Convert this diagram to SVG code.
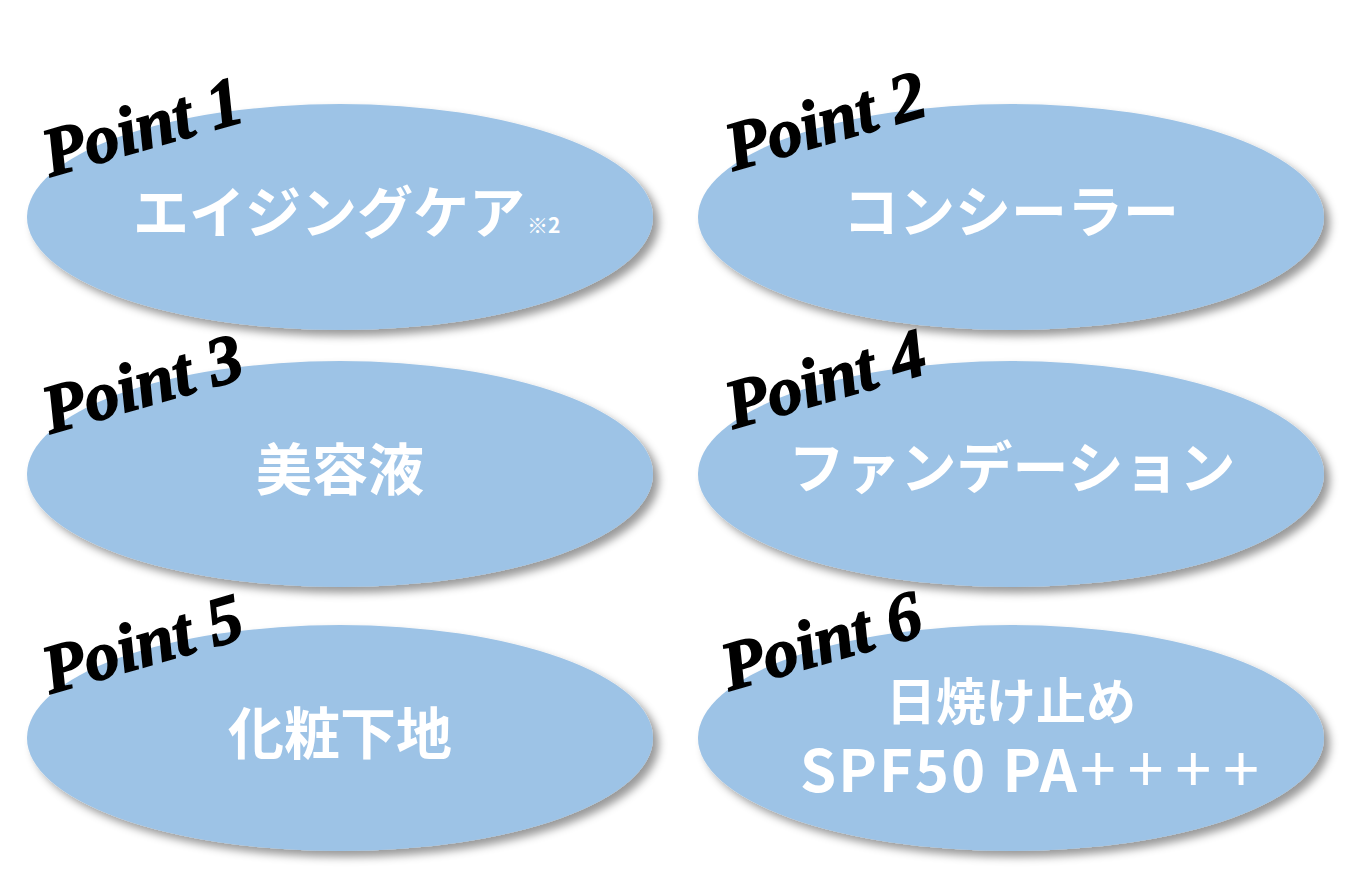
<svg xmlns="http://www.w3.org/2000/svg" width="1355" height="882" viewBox="0 0 1355 882">
<defs>
<filter id="sh" x="-10%" y="-20%" width="125%" height="150%">
<feDropShadow dx="6" dy="6" stdDeviation="4" flood-color="#000" flood-opacity="0.4"/>
</filter>
<style>
.ell{fill:#9DC3E6;filter:url(#sh);}
.pt{font-family:"Liberation Serif","DejaVu Serif",serif;font-weight:bold;font-style:italic;font-size:69px;fill:#000;stroke:#000;stroke-width:1.6px;}
.lb{font-family:"Noto Sans CJK JP","Noto Sans",sans-serif;font-weight:bold;font-size:56px;fill:#fff;text-anchor:middle;}
.sm{font-size:21px;}
.pl{font-family:"Noto Sans",sans-serif;font-weight:normal;font-size:66px;letter-spacing:10px;}
</style>
</defs>
<rect width="1355" height="882" fill="#fff"/>
<g id="node1">
<ellipse class="ell" cx="340" cy="217" rx="313" ry="113"/>
<text class="lb" x="133" y="233" style="text-anchor:start">エイジングケア<tspan class="sm" dx="2">※2</tspan></text>
<text class="pt" transform="translate(50,177) rotate(-16)">Point 1</text>
</g>
<g id="node2">
<ellipse class="ell" cx="1011" cy="217" rx="313" ry="113"/>
<text class="lb" x="1011" y="232">コンシーラー</text>
<text class="pt" transform="translate(733,171) rotate(-16)">Point 2</text>
</g>
<g id="node3">
<ellipse class="ell" cx="340" cy="474" rx="313" ry="113"/>
<text class="lb" x="340" y="490">美容液</text>
<text class="pt" transform="translate(50,434) rotate(-16)">Point 3</text>
</g>
<g id="node4">
<ellipse class="ell" cx="1011" cy="474" rx="313" ry="113"/>
<text class="lb" x="1012" y="488">ファンデーション</text>
<text class="pt" transform="translate(733,429) rotate(-16)">Point 4</text>
</g>
<g id="node5">
<ellipse class="ell" cx="340" cy="738" rx="313" ry="113"/>
<text class="lb" x="340" y="754">化粧下地</text>
<text class="pt" transform="translate(50,694) rotate(-16)">Point 5</text>
</g>
<g id="node6">
<ellipse class="ell" cx="1011" cy="738" rx="313" ry="113"/>
<text class="lb" x="1011" y="720" style="font-size:50px">日焼け止め</text>
<text class="lb" x="800" y="792" style="text-anchor:start;font-size:58px;letter-spacing:2px">SPF50 PA<tspan class="pl">++++</tspan></text>
<text class="pt" transform="translate(729,691) rotate(-16)">Point 6</text>
</g>
<g id="connectors"></g>
</svg>
